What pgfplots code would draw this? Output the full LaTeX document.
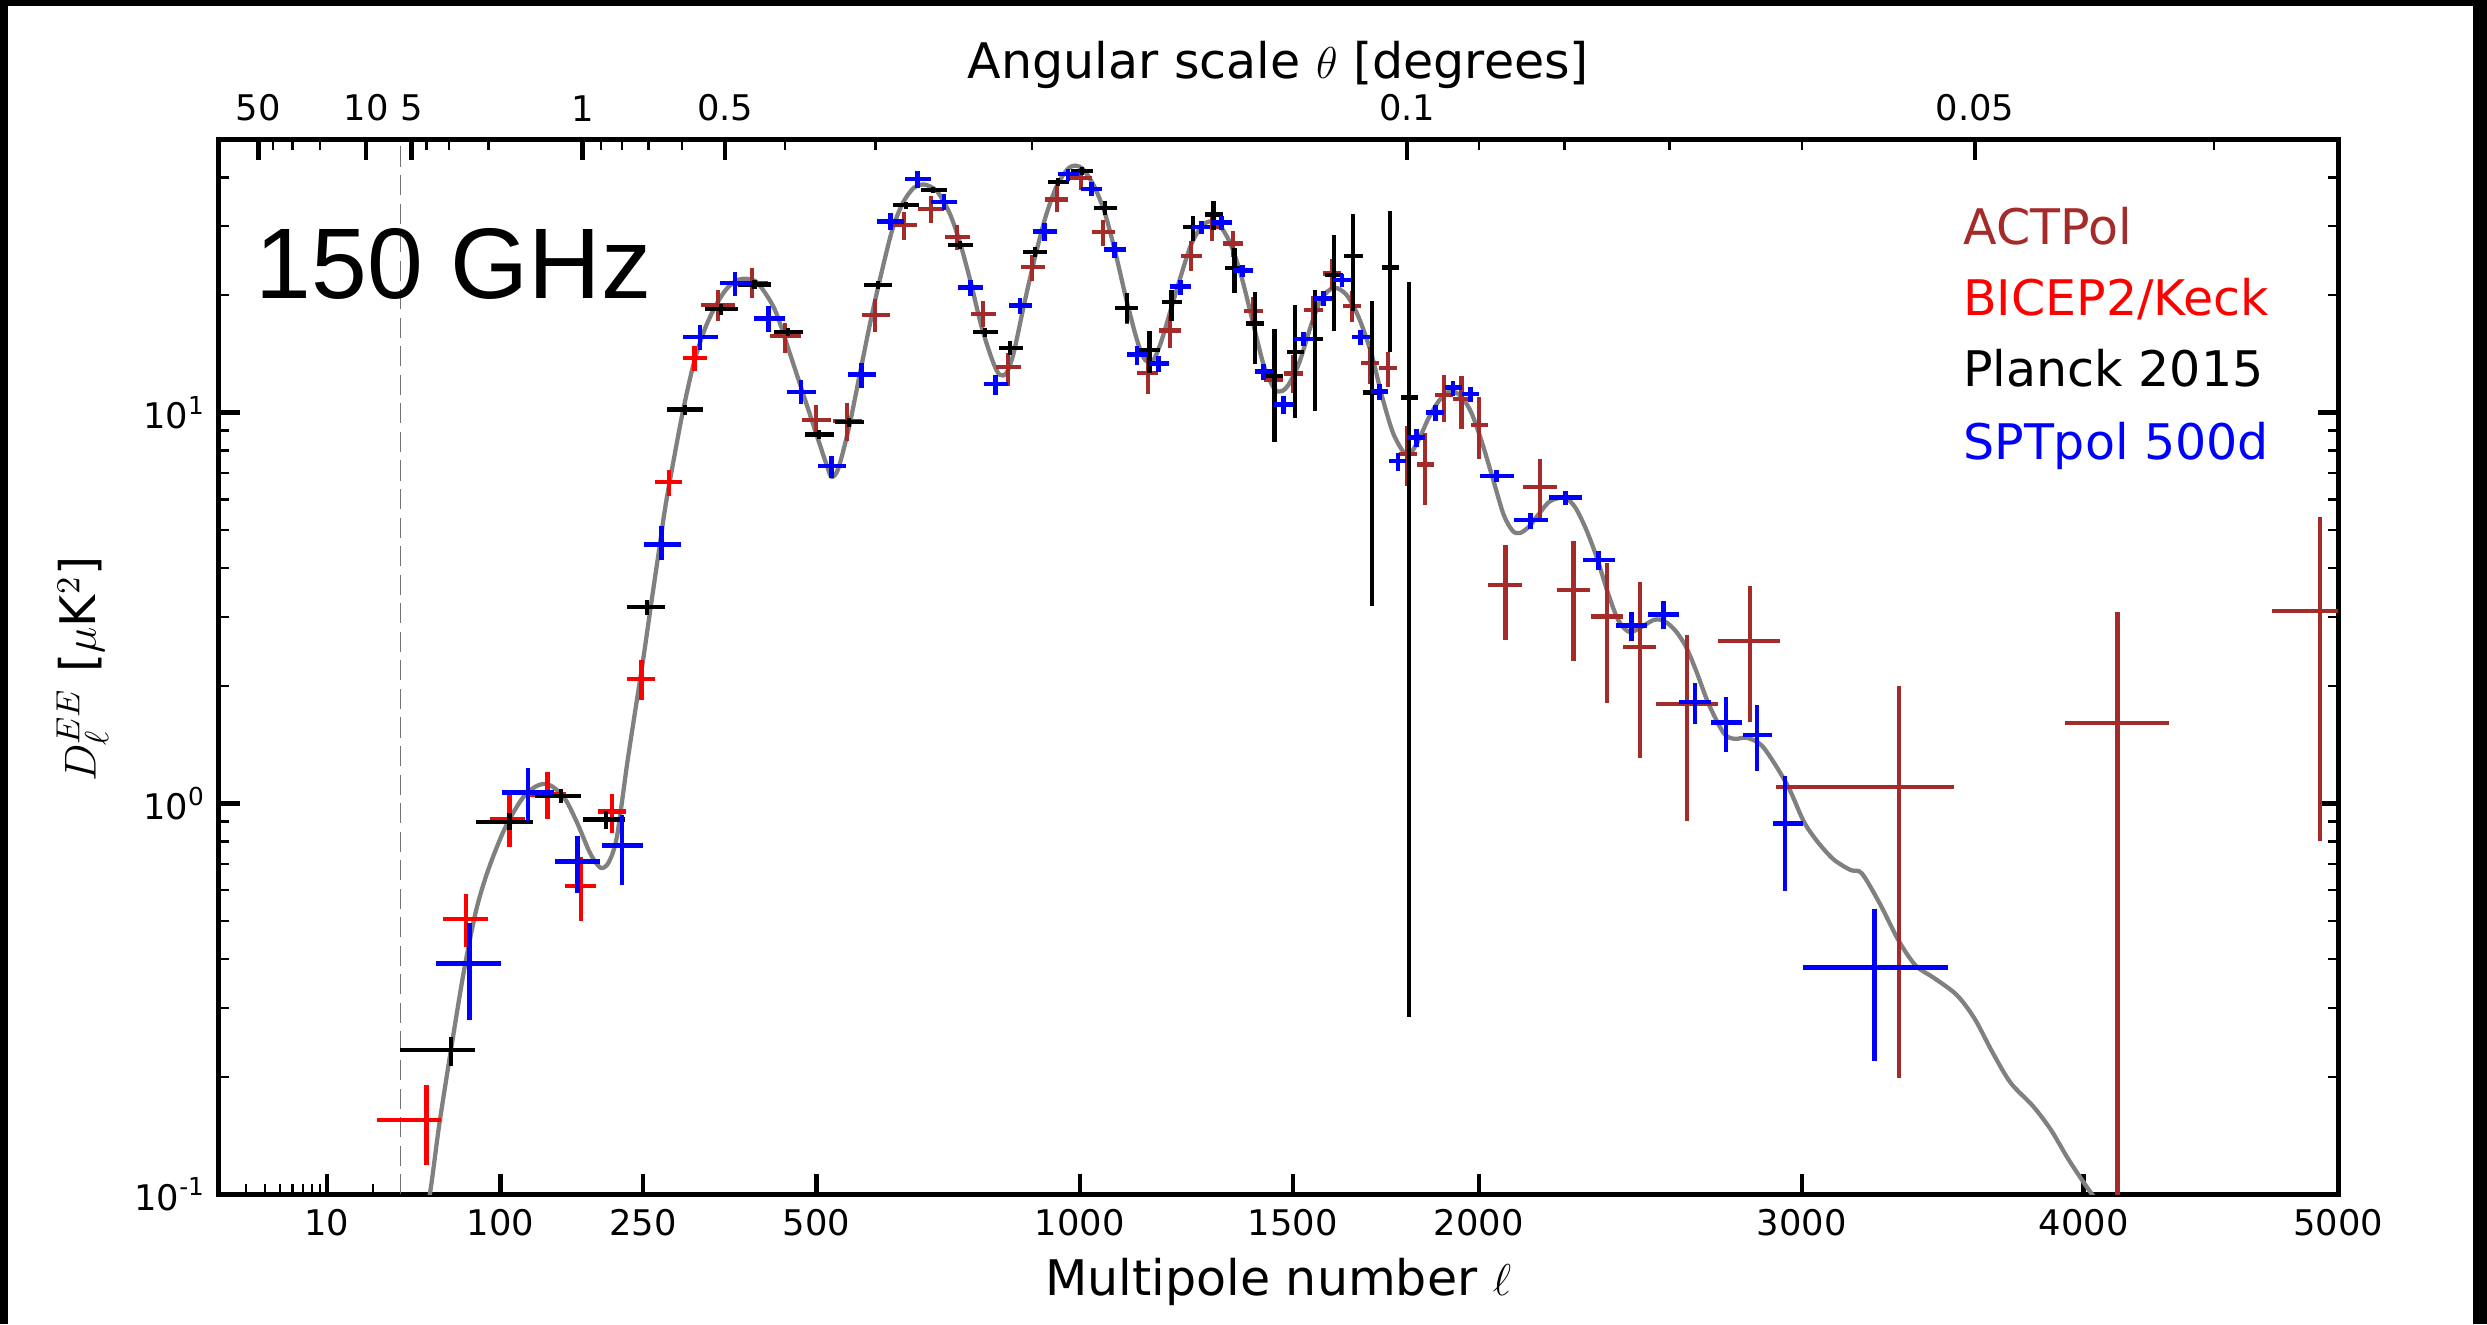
\documentclass[border=0pt]{standalone}
\usepackage{fontspec}
\setmainfont{DejaVu Sans}
\newfontfamily\arialfont{Liberation Sans}
\usepackage{pgfplots}
\usepackage{pgfplotstable}
\pgfplotsset{compat=1.18}
\definecolor{actbrown}{HTML}{A52A2A}
\definecolor{theorygray}{HTML}{808080}

% ACTPol: l, l_low, l_high, D, D_low, D_high
\pgfplotstableread{
l llo lhi y ylo yhi
349.6 326.1 374.1 18.91 17.14 20.66
399.0 376.7 423.9 21.41 19.67 23.48
449.5 426.8 474.9 15.70 14.22 16.98
499.6 476.7 524.6 9.60 8.88 10.49
550.5 527.6 576.1 9.51 8.46 10.60
599.8 576.1 625.1 17.83 16.07 19.56
650.8 628.4 675.3 30.19 27.70 32.60
700.1 677.1 725.1 33.30 30.60 35.95
750.3 726.4 775.4 28.18 26.15 30.30
801.1 776.7 825.9 17.90 16.58 19.29
850.7 825.9 876.2 13.08 11.69 14.22
900.0 876.2 925.8 23.57 21.70 25.39
950.6 925.8 974.7 35.12 32.60 37.98
1001.8 974.7 1026.9 39.90 37.20 42.30
1050.3 1026.9 1076.2 28.96 26.67 31.20
1104.0 1078.1 1128.5 18.55 16.91 20.26
1150.7 1126.0 1174.9 12.65 11.19 14.22
1201.2 1176.6 1226.4 16.23 14.65 17.66
1251.5 1226.4 1276.7 25.15 23.00 27.48
1300.9 1276.7 1326.5 29.90 27.48 32.14
1350.9 1327.9 1376.1 27.10 25.05 29.14
1400.4 1378.8 1425.7 18.18 16.64 19.79
1452.7 1428.6 1475.9 12.11 10.81 13.41
1500.5 1478.1 1525.9 12.60 11.24 14.01
1551.0 1527.3 1576.1 18.29 16.81 19.87
1600.9 1578.0 1624.2 22.71 20.66 24.71
1652.3 1629.0 1675.8 18.79 17.02 20.45
1701.4 1677.7 1725.5 13.42 11.83 14.76
1750.1 1725.5 1773.3 13.01 11.66 14.30
1800.6 1779.2 1828.3 7.85 6.49 9.25
1850.4 1828.3 1874.9 7.37 5.79 8.90
1902.6 1878.0 1927.3 11.10 9.48 12.52
1951.6 1927.3 1974.7 10.87 9.09 12.42
1999.8 1977.6 2025.2 9.29 7.60 10.94
2076.6 2027.7 2125.6 3.62 2.62 4.59
2176.7 2127.6 2226.3 6.45 5.37 7.60
2276.5 2228.0 2327.3 3.51 2.32 4.69
2376.6 2329.6 2425.1 3.01 1.807 4.13
2477.6 2426.5 2527.4 2.52 1.307 3.69
2626.4 2527.4 2725.4 1.799 0.902 2.70
2827.8 2727.0 2926.5 2.61 1.613 3.60
3331.5 2913.0 3525.6 1.10 0.198 2.00
4128.1 3930.0 4326.3 1.607 0.02 3.10
4927.0 4730.0 5150.0 3.11 0.80 5.41
}\actpol

% BICEP2/Keck
\pgfplotstableread{
l llo lhi y ylo yhi
44.9 21.1 54.7 0.155 0.119 0.191
72.2 56.1 89.8 0.507 0.429 0.586
107.9 91.5 122.0 0.914 0.773 1.056
143.6 125.8 162.3 1.056 0.914 1.206
178.3 161.5 195.3 0.615 0.501 0.728
213.1 196.6 229.8 0.955 0.841 1.060
248.1 230.9 265.0 2.08 1.836 2.336
283.1 265.8 299.9 6.64 6.11 7.15
317.3 301.0 335.0 13.81 12.77 14.86
}\bicep

% Planck 2015
\pgfplotstableread{
l llo lhi y ylo yhi
61.2 30.0 79.0 0.234 0.2135 0.2526
107.9 80.0 129.0 0.895 0.857 0.948
157.2 131.6 178.7 1.044 1.002 1.090
206.0 180.9 228.3 0.910 0.861 0.959
254.8 230.9 278.0 3.18 3.04 3.31
304.4 280.9 328.6 10.19 9.89 10.49
353.7 331.0 378.2 18.44 17.83 19.03
403.1 379.2 427.5 21.28 20.70 21.80
454.0 432.0 477.9 16.07 15.70 16.45
503.9 480.7 528.7 8.79 8.57 9.02
554.6 530.5 579.3 9.46 9.20 9.72
604.1 580.6 629.9 21.20 20.70 21.70
653.9 631.4 678.4 33.96 33.30 34.60
704.9 681.8 730.0 37.17 36.40 37.90
755.8 731.9 780.2 26.83 26.20 27.50
804.6 781.5 829.3 16.07 15.60 16.50
854.6 831.6 880.0 14.65 14.09 15.24
905.9 881.6 929.6 25.75 25.00 26.50
954.2 931.9 977.2 38.96 38.00 39.90
1004.1 980.8 1028.6 41.50 40.50 42.50
1054.6 1031.2 1080.5 33.43 32.14 34.77
1104.3 1078.1 1128.5 18.55 16.98 20.20
1154.5 1131.9 1178.9 14.45 12.65 16.17
1205.6 1183.1 1228.8 19.21 17.14 20.66
1255.6 1233.1 1279.2 29.84 27.48 31.96
1304.7 1283.5 1327.9 32.14 29.40 34.80
1355.1 1332.8 1376.1 23.48 20.26 26.41
1404.5 1382.6 1428.6 16.91 13.36 20.34
1453.6 1433.7 1475.9 12.40 8.41 16.39
1505.0 1484.8 1527.3 14.31 9.70 18.92
1555.9 1534.9 1576.1 15.45 10.09 20.66
1605.6 1582.4 1629.1 22.47 16.22 28.45
1655.2 1630.7 1680.7 25.23 18.21 32.28
1706.0 1682.7 1731.0 11.27 3.21 19.28
1755.0 1733.0 1779.2 23.54 14.30 32.83
1805.6 1783.2 1829.9 10.94 0.285 21.55
}\planck

% SPTpol 500d
\pgfplotstableread{
l llo lhi y ylo yhi
74.7 51.4 100.1 0.389 0.279 0.495
124.7 101.2 149.7 1.069 0.904 1.235
174.3 150.9 199.0 0.710 0.589 0.826
224.6 201.3 249.6 0.782 0.618 0.937
273.9 251.3 299.5 4.60 4.21 5.12
324.7 301.0 350.1 15.63 14.51 16.81
374.1 352.2 399.0 21.49 19.94 22.88
424.0 402.2 449.0 17.39 16.07 18.80
474.9 452.3 499.6 11.31 10.50 12.16
524.6 502.0 549.8 7.30 6.81 7.77
576.1 551.6 601.2 12.52 11.58 13.41
626.3 603.0 650.3 30.90 29.30 32.46
675.3 652.3 700.1 39.66 37.60 41.50
725.1 701.4 750.3 34.63 33.10 36.20
775.4 752.5 801.1 20.95 19.87 21.90
824.6 803.1 849.5 11.85 11.13 12.52
874.9 852.3 900.0 18.80 17.94 19.67
925.8 901.9 950.6 29.14 27.48 30.60
974.7 952.7 998.3 40.85 39.12 42.06
1025.4 1002.3 1049.3 37.40 35.80 38.89
1076.5 1052.3 1102.4 26.15 24.90 27.30
1126.0 1104.0 1150.6 14.09 13.28 14.86
1174.9 1153.0 1199.9 13.34 12.70 13.95
1226.4 1202.4 1249.8 21.07 20.06 21.90
1275.1 1252.4 1296.6 29.84 28.58 30.90
1323.5 1298.0 1349.7 30.73 29.42 31.96
1374.0 1352.5 1400.4 23.11 22.26 23.93
1425.7 1405.5 1450.1 12.77 12.11 13.36
1475.9 1452.7 1500.5 10.49 9.95 11.02
1527.3 1502.0 1553.1 15.45 14.80 16.07
1577.9 1555.0 1600.9 19.60 18.79 20.45
1626.2 1602.8 1650.8 21.87 21.01 22.71
1675.8 1654.0 1700.0 15.62 14.91 16.29
1725.5 1703.0 1750.1 11.34 10.81 11.83
1776.3 1751.0 1798.6 7.52 7.10 7.88
1825.9 1800.6 1850.4 8.63 8.18 9.06
1878.0 1853.0 1901.4 10.00 9.53 10.49
1927.3 1904.0 1951.6 11.58 11.04 12.08
1977.6 1954.0 1999.8 11.17 10.65 11.66
2051.3 2004.8 2102.5 6.89 6.63 7.14
2149.9 2102.5 2201.9 5.32 5.04 5.55
2252.1 2203.0 2303.3 6.06 5.82 6.29
2352.0 2304.6 2403.2 4.20 3.96 4.43
2453.0 2406.0 2501.4 2.85 2.60 3.10
2551.7 2504.0 2602.4 3.04 2.79 3.30
2651.6 2602.0 2702.7 1.819 1.60 2.04
2751.3 2704.0 2803.4 1.613 1.354 1.877
2851.6 2806.0 2902.8 1.498 1.211 1.788
2944.6 2906.0 3005.2 0.889 0.599 1.176
3247.1 3004.5 3505.8 0.380 0.220 0.537
}\sptpol

% Theory curve
\pgfplotstableread{
l v
40 0.075
46.6 0.097
53.4 0.152
61.8 0.2406
70.6 0.371
80.0 0.532
89.8 0.677
103.6 0.861
118.2 1.019
129.6 1.095
139.6 1.122
149.7 1.10
162.3 1.019
175.1 0.882
188.4 0.745
199.9 0.685
209.2 0.707
218.7 0.821
230.9 1.265
240.7 1.73
250.7 2.36
261.0 3.31
270.0 4.40
278.6 5.77
290.2 7.74
302.0 10.19
316.3 13.41
331.0 16.32
346.1 18.73
361.2 20.66
376.7 21.8
392.5 22.0
408.5 21.4
433.7 18.37
455.2 14.51
477.9 11.24
500.8 8.71
518.4 7.22
525.5 6.85
536.4 7.22
554.6 9.24
573.1 12.65
591.9 17.31
610.5 22.79
629.9 29.42
648.7 34.4
668.6 37.6
688.3 38.35
711.7 36.88
735.5 32.46
755.8 27.2
776.7 21.49
797.4 16.65
818.4 13.68
832.9 12.52
847.3 12.65
861.7 14.22
883.7 19.1
905.9 25.15
927.9 31.83
950.6 37.98
973.3 41.9
990.0 42.9
1007.7 41.9
1031.2 37.98
1054.6 32.46
1078.1 25.64
1102.4 19.48
1126.0 15.39
1141.6 13.81
1154.5 13.46
1166.6 13.81
1183.1 15.39
1203.8 18.37
1224.6 21.92
1249.8 26.67
1275.1 29.9
1298.0 30.9
1321.9 29.9
1347.8 26.67
1374.0 21.92
1400.4 16.98
1427.7 13.15
1453.6 11.51
1471.3 11.35
1489.3 11.8
1516.1 13.41
1547.0 16.8
1573.4 19.6
1605.6 20.88
1638.6 20.02
1671.4 17.46
1704.3 14.15
1733.0 10.99
1762.0 8.9
1791.3 7.93
1810.4 7.88
1835.0 8.63
1859.8 9.69
1889.4 10.76
1919.0 11.34
1949.5 11.04
1979.3 10.0
2009.8 8.36
2040.5 6.77
2071.0 5.49
2097.0 4.99
2117.5 4.92
2143.7 5.10
2176.7 5.55
2207.0 5.94
2250.0 6.06
2281.8 5.72
2313.9 5.04
2346.5 4.26
2378.9 3.49
2411.5 2.95
2444.7 2.75
2477.6 2.81
2522.2 2.95
2555.0 2.93
2589.4 2.77
2623.0 2.52
2656.8 2.17
2695.0 1.80
2743.6 1.514
2778.0 1.464
2818.5 1.473
2865.3 1.413
2911.8 1.258
2959.5 1.086
3007.0 0.899
3052.0 0.80
3107.0 0.72
3164.7 0.676
3203.3 0.663
3265.4 0.555
3331.5 0.445
3390.8 0.385
3454.9 0.358
3535.2 0.324
3599.4 0.282
3664.8 0.231
3730.6 0.193
3813.2 0.168
3879.7 0.146
3947.0 0.122
4031.9 0.100
4100.0 0.088
}\theory

\pgfplotstableread{
l v
30 0.1
30 50
}\lthirty

\begin{document}
\begin{tikzpicture}[declare function={tr(\x)=ifthenelse(\x<30, 7.696-5.4677*ln(30/\x), \x^0.6);}]
\useasboundingbox (0,0) rectangle (23.52,12.525);
\pgfplotsset{
  ebar/.style 2 args={draw=none, mark=none, forget plot,
    error bars/.cd, x dir=both, x explicit, y dir=both, y explicit,
    error mark=none, error bar style={draw=#1, line width=#2, solid}},
  table/etab/.style={x expr={tr(\thisrow{l})}, y=y,
    x error plus expr={tr(\thisrow{lhi})-tr(\thisrow{l})},
    x error minus expr={tr(\thisrow{l})-tr(\thisrow{llo})},
    y error plus expr={\thisrow{yhi}-\thisrow{y}},
    y error minus expr={\thisrow{y}-\thisrow{ylo}}},
  common/.style={at={(2.07cm,1.23cm)}, anchor=south west,
    scale only axis, width=20.043cm, height=9.975cm,
    xmin=-7.111, xmax=165.72,
    axis line style={line width=1.35pt},
    tick align=inside,
    major tick length=0.195cm, minor tick length=0.1cm,
    major tick style={line width=1.2pt, black},
    minor tick style={line width=0.6pt, black},
    ticklabel style={font=\fontsize{9.5}{11}\selectfont}}
}
\begin{axis}[common,
  ymode=log, ymin=0.1, ymax=50,
  xtick pos=left, ytick pos=both,
  xtick={1.689,15.849,27.464,41.628,63.096,80.474,95.635,121.97,144.96,165.72},
  xticklabels={10,100,250,500,1000,1500,2000,3000,4000,5000},
  minor xtick={-4.894,-3.321,-2.101,-1.104,-0.261,0.469,1.113,5.479},
  ytick={0.1,1,10},
  yticklabels={10\textsuperscript{-1},10\textsuperscript{0},10\textsuperscript{1}},
  minor ytick={0.2,0.3,0.4,0.5,0.6,0.7,0.8,0.9,2,3,4,5,6,7,8,9,20,30,40},
  xticklabel style={yshift=-0.02cm},
]
\addplot[black!55, line width=0.5pt, dash pattern=on 0.19cm off 0.08cm, forget plot]
  table[x expr={tr(\thisrow{l})}, y=v] {\lthirty};
\addplot[theorygray, line width=1.15pt, smooth, forget plot]
  table[x expr={tr(\thisrow{l})}, y=v] {\theory};
\addplot[ebar={actbrown}{1.1pt}] table[etab] {\actpol};
\addplot[ebar={red}{1.2pt}] table[etab] {\bicep};
\addplot[ebar={black}{1.15pt}] table[etab] {\planck};
\addplot[ebar={blue}{1.25pt}] table[etab] {\sptpol};
\end{axis}
\begin{axis}[common,
  ymin=0, ymax=1,
  axis x line*=top, axis y line=none,
  tick align=inside,
  xtick={-3.897,4.903,8.585,22.553,34.183,89.785,136.09},
  xticklabels={50,10,5,1,0.5,0.1,0.05},
  minor xtick={-2.677,-1.104,1.113,9.816,11.666,14.878,24.022,25.782,27.93,30.643,39.063,46.438,59.225,95.635,102.63,111.19,121.97,155.56},
  xticklabel style={yshift=0.05cm},
]
\end{axis}
% labels
\node[anchor=base, font=\fontsize{13.2}{15}\selectfont] at (12.09,0.2775) {Multipole number $\ell$};
\node[anchor=base, font=\fontsize{13.2}{15}\selectfont] at (12.09,11.787) {Angular scale $\theta$ [degrees]};
\node[rotate=90, font=\fontsize{13.2}{15}\selectfont] at (0.78,6.195) {$D_\ell^{EE}$ [$\mu$K$^2$]};
% legend
\begin{scope}[every node/.style={anchor=base west, inner sep=0pt, font=\fontsize{13.2}{15}\selectfont}]
\node[text=actbrown] at (18.56,10.2105) {ACTPol};
\node[text=red] at (18.56,9.5385) {BICEP2/Keck};
\node[text=black] at (18.56,8.8665) {Planck 2015};
\node[text=blue] at (18.56,8.1825) {SPTpol 500d};
\end{scope}
\node[anchor=base west, inner sep=0pt, font=\arialfont\fontsize{27}{30}\selectfont] at (2.409,9.7035) {150 GHz};
% black frame bands
\fill[black] (0,0) rectangle (0.075,12.525);
\fill[black] (23.385,0) rectangle (23.52,12.525);
\fill[black] (0,12.465) rectangle (23.52,12.525);
\end{tikzpicture}
\end{document}
